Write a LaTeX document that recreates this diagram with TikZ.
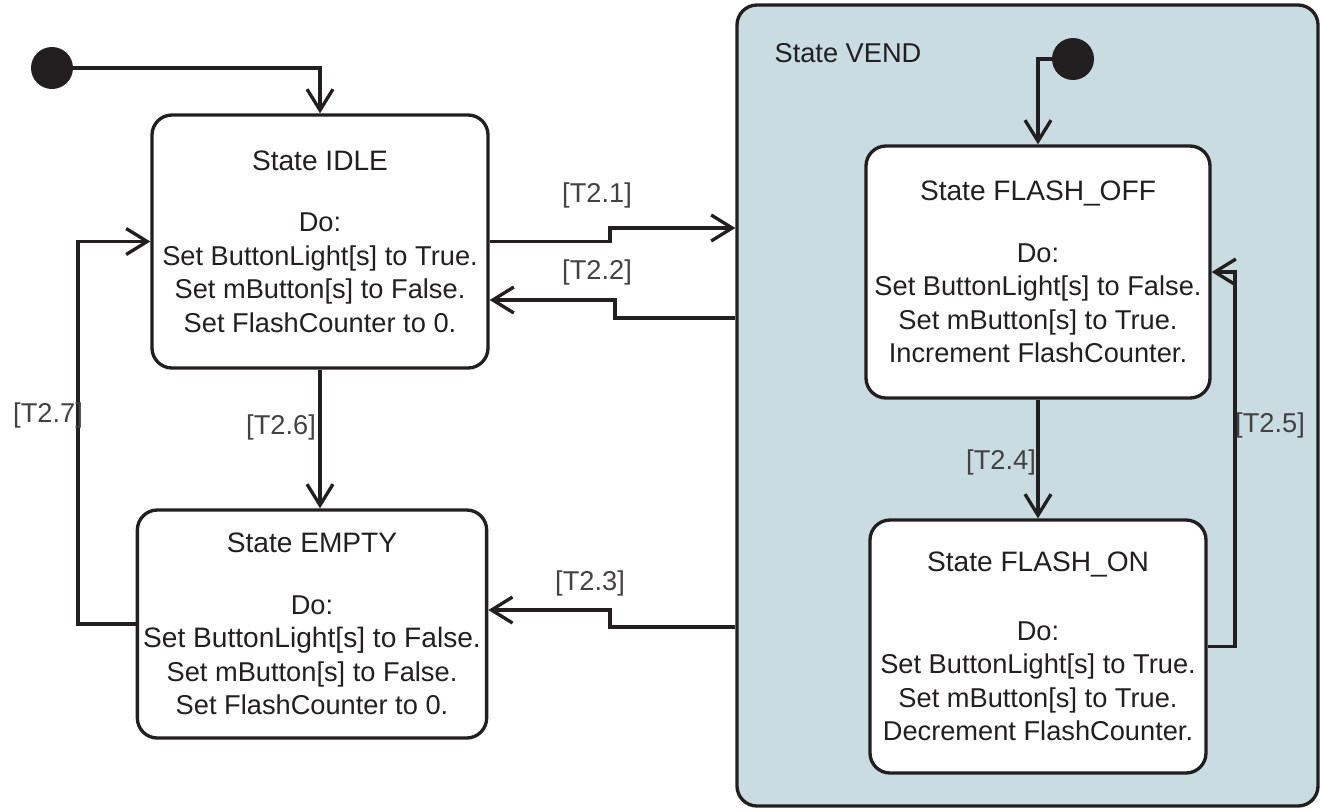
\documentclass[tikz,border=0pt]{standalone}
\usepackage{fontspec}
\setmainfont{Liberation Sans}
\usetikzlibrary{arrows.meta}
\definecolor{ink}{RGB}{35,31,32}
\definecolor{vendblue}{RGB}{201,220,225}

\begin{document}
\begin{tikzpicture}[
	state/.style={rectangle, draw=ink, line width=1.9pt, rounded corners=0.4cm, fill=white,
		text=ink, align=center, font=\fontsize{15.5}{19}\selectfont},
	flow/.style={draw=ink, line width=1.9pt, -{Straight Barb[length=0.42cm, width=0.52cm]}},
	guard/.style={text=ink!85, font=\fontsize{15.5}{19}\selectfont, inner sep=1pt},
	init/.style={circle, fill=ink, minimum size=0.84cm, inner sep=0pt}
	]
	
	\useasboundingbox (0,0) rectangle (26.42,-16.22);
	
	%Composite state
	\node (vend) at (20.55,-8.11) [rectangle, draw=ink, line width=1.9pt, rounded corners=0.4cm, 
	fill=vendblue, minimum width=11.62cm, minimum height=16.02cm]{};
	\node (vendname) at (16.96,-1.06) [guard, text=ink]{State VEND};
	
	%States
	\node (idle) at (6.40,-4.83) [state, minimum width=6.72cm, minimum height=5.06cm]{{\fontsize{16}{19}\selectfont State IDLE}\\[16pt]
		Do:\\Set ButtonLight[s] to True.\\Set mButton[s] to False.\\Set FlashCounter to 0.};
	
	\node (empty) at (6.24,-12.48) [state, minimum width=6.96cm, minimum height=4.56cm]{{\fontsize{16}{19}\selectfont State EMPTY}\\[16pt]
		Do:\\{\fontsize{16}{19}\selectfont Set ButtonLight[s] to False.}\\Set mButton[s] to False.\\Set FlashCounter to 0.};
	
	\node (foff) at (20.76,-5.44) [state, minimum width=6.88cm, minimum height=5.04cm]{{\fontsize{16}{19}\selectfont State FLASH\_OFF}\\[16pt]
		Do:\\Set ButtonLight[s] to False.\\Set mButton[s] to True.\\Increment FlashCounter.};
	
	\node (fon) at (20.76,-12.93) [state, minimum width=6.72cm, minimum height=5.06cm]{{\fontsize{16}{19}\selectfont State FLASH\_ON}\\[20pt]
		Do:\\Set ButtonLight[s] to True.\\Set mButton[s] to True.\\Decrement FlashCounter.};
	
	%Initial states
	\node (init1) at (1.04,-1.36) [init]{};
	\node (init2) at (21.46,-1.18) [init]{};
	\draw[flow] (init1) -| (idle.north);
	\draw[flow] (init2) -| (foff.north);
	
	%Transitions
	\draw[flow] (idle.east) -| (12.2,-4.56) -- (vend.west |- 0,-4.56);
	\draw[flow] (vend.west |- 0,-6.36) -| (12.3,-6.0) -- (idle.east |- 0,-6.0);
	\draw[flow] (vend.west |- 0,-12.54) -| (12.2,-12.2) -- (empty.east |- 0,-12.2);
	\draw[flow] (idle.south) -- (idle.south |- empty.north);
	\draw[flow] (empty.west) -- (1.56,-12.48) |- (idle.west);
	\draw[flow] (foff.south) -- (fon.north);
	\draw[flow] (fon.east) -- (24.7,-12.93) |- (foff.east);
	
	%Guards
	\node (g21) at (11.94,-3.90) [guard]{[T2.1]};
	\node (g22) at (11.94,-5.44) [guard]{[T2.2]};
	\node (g23) at (11.80,-11.66) [guard]{[T2.3]};
	\node (g26) at (5.62,-8.54) [guard]{[T2.6]};
	\node (g27) at (0.96,-8.30) [guard]{[T2.7]};
	\node (g24) at (20.02,-9.24) [guard]{[T2.4]};
	\node (g25) at (25.40,-8.50) [guard]{[T2.5]};
	
\end{tikzpicture}
\end{document}
